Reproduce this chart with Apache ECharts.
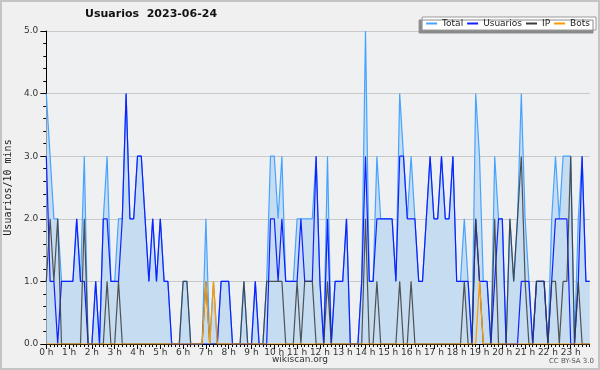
<!DOCTYPE html>
<html>
<head>
<meta charset="utf-8">
<script src="https://cdn.jsdelivr.net/npm/echarts@6/dist/echarts.min.js"></script>
<style>
html,body{margin:0;padding:0;background:#f0f0f0;}
#chart{position:absolute;left:0;top:0;width:600px;height:370px;}
#frame{position:absolute;left:0;top:0;width:596px;height:366px;border:2px solid #c4c4c4;pointer-events:none;}
</style>
</head>
<body>
<div id="chart"></div>
<div id="frame"></div>
<script>
// 10-minute slots, 0:00 .. 23:50
const hourLabels = ["0 h","1 h","2 h","3 h","4 h","5 h","6 h","7 h","8 h","9 h","10 h","11 h","12 h","13 h","14 h","15 h","16 h","17 h","18 h","19 h","20 h","21 h","22 h","23 h"];
const minuteSteps = ["00","10","20","30","40","50"];

const total = [
4,3,2,2,1,1,1,1,2,1,3,0,0,1,0,2,3,1,1,2,2,4,2,2,
3,3,2,1,2,1,2,1,1,0,0,0,1,1,0,0,0,0,2,0,1,0,1,1,
1,0,0,0,1,0,0,1,0,0,1,3,3,2,3,1,1,1,2,2,2,2,2,3,
1,0,3,0,1,1,1,2,0,0,0,1,5,1,1,3,2,2,2,2,1,4,3,2,
3,2,1,1,2,3,2,2,3,2,2,3,1,1,2,1,0,4,3,1,1,0,3,2,
2,0,2,1,2,4,2,1,0,1,1,1,0,2,3,2,3,3,3,0,2,3,1,1
];
const usuarios = [
3,1,1,0,1,1,1,1,2,1,1,0,0,1,0,2,2,1,1,1,2,4,2,2,
3,3,2,1,2,1,2,1,1,0,0,0,0,0,0,0,0,0,0,0,0,0,1,1,
1,0,0,0,0,0,0,1,0,0,0,2,2,1,2,1,1,1,1,2,1,1,1,3,
1,0,2,0,1,1,1,2,0,0,0,1,3,1,1,2,2,2,2,2,1,3,3,2,
2,2,1,1,2,3,2,2,3,2,2,3,1,1,1,1,0,2,1,1,1,0,1,2,
2,0,0,0,0,1,1,1,0,1,1,1,0,1,2,2,2,2,0,0,1,3,1,1
];
const ip = [
1,2,1,2,0,0,0,0,0,0,2,0,0,0,0,0,1,0,0,1,0,0,0,0,
0,0,0,0,0,0,0,0,0,0,0,0,1,1,0,0,0,0,1,0,0,0,0,0,
0,0,0,0,1,0,0,0,0,0,1,1,1,1,1,0,0,0,1,0,1,1,1,0,
0,0,1,0,0,0,0,0,0,0,0,0,2,0,0,1,0,0,0,0,0,1,0,0,
1,0,0,0,0,0,0,0,0,0,0,0,0,0,1,0,0,2,1,0,0,0,2,0,
0,0,2,1,2,3,1,0,0,1,1,1,0,1,1,0,1,1,3,0,1,0,0,0
];
const bots = [
0,0,0,0,0,0,0,0,0,0,0,0,0,0,0,0,0,0,0,0,0,0,0,0,
0,0,0,0,0,0,0,0,0,0,0,0,0,0,0,0,0,0,1,0,1,0,0,0,
0,0,0,0,0,0,0,0,0,0,0,0,0,0,0,0,0,0,0,0,0,0,0,0,
0,0,0,0,0,0,0,0,0,0,0,0,0,0,0,0,0,0,0,0,0,0,0,0,
0,0,0,0,0,0,0,0,0,0,0,0,0,0,0,0,0,0,1,0,0,0,0,0,
0,0,0,0,0,0,0,0,0,0,0,0,0,0,0,0,0,0,0,0,0,0,0,0
];
const yTicks = [0,1,2,3,4,5];

const categories = [];
for (let h = 0; h < 24; h++) for (const m of minuteSteps) categories.push(h + ':' + m);

const colTotal = '#46a3ff', colUsu = '#1020ff', colIP = '#3a3a3a', colBots = '#ff9900';

const chart = echarts.init(document.getElementById('chart'), null, {renderer:'canvas'});
const axisFont = 'DejaVu Sans';
chart.setOption({
  animation: false,
  backgroundColor: '#f0f0f0',
  title: {
    text: 'Usuarios  2023-06-24',
    left: 80, top: 4,
    textStyle: {fontFamily: 'DejaVu Sans', fontWeight: 'bold', fontSize: 11, color: '#111'}
  },
  legend: {
    data: [
      {name: 'Total', itemStyle: {color: colTotal}},
      {name: 'Usuarios', itemStyle: {color: colUsu}},
      {name: 'IP', itemStyle: {color: colIP}},
      {name: 'Bots', itemStyle: {color: colBots}}
    ],
    right: 4, top: 17,
    orient: 'horizontal',
    backgroundColor: '#ffffff',
    borderColor: '#9a9a9a', borderWidth: 1,
    shadowColor: '#8a8a8a', shadowOffsetX: -3, shadowOffsetY: 3, shadowBlur: 0,
    padding: [2, 6, 2, 4],
    itemGap: 4, itemWidth: 11, itemHeight: 2,
    icon: 'rect',
    textStyle: {fontFamily: 'DejaVu Sans', fontSize: 9, color: '#222'}
  },
  grid: {left: 46.3, right: 10.3, top: 31, bottom: 26, containLabel: false, outerBoundsMode: 'none',
         show: true, backgroundColor: '#eef0f2', borderWidth: 0},
  xAxis: [{
    type: 'category', data: categories, boundaryGap: false,
    axisLine: {show: true, lineStyle: {color: '#000', width: 1}},
    axisTick: {show: true, interval: 0, length: 3, lineStyle: {color: '#000'}},
    axisLabel: {
      interval: function (idx) { return idx % 6 === 0; },
      formatter: function (v, idx) { return hourLabels[idx / 6]; },
      fontFamily: axisFont, fontSize: 9, color: '#333', margin: 4
    },
    splitLine: {show: false}
  }, {
    type: 'category', data: categories, boundaryGap: false, position: 'bottom',
    axisLine: {show: false},
    axisTick: {show: true, interval: function (idx) { return idx % 6 === 0; }, length: 5, lineStyle: {color: '#000'}},
    axisLabel: {show: false},
    splitLine: {show: false}
  }],
  yAxis: {
    type: 'value', min: yTicks[0], max: yTicks[yTicks.length - 1], interval: 1,
    name: 'Usuarios/10 mins', nameLocation: 'middle', nameRotate: 90, nameGap: 32,
    nameTextStyle: {fontFamily: 'DejaVu Sans Mono', fontSize: 10, color: '#222'},
    axisLine: {show: true, lineStyle: {color: '#000', width: 1}},
    axisTick: {show: true, length: 6, lineStyle: {color: '#000'}},
    minorTick: {show: true, splitNumber: 5, length: 3, lineStyle: {color: '#000'}},
    axisLabel: {formatter: function (v) { return v.toFixed(1); }, fontFamily: axisFont, fontSize: 9, color: '#333', margin: 8},
    splitLine: {show: true, lineStyle: {color: '#c8c8c8', width: 1}}
  },
  series: [
    {name: 'Total', type: 'line', data: total, symbol: 'none', z: 2,
     lineStyle: {color: colTotal, width: 1.2}, itemStyle: {color: colTotal},
     areaStyle: {color: '#c6dcf0', opacity: 1}},
    {name: 'Usuarios', type: 'line', data: usuarios, symbol: 'none', z: 3,
     lineStyle: {color: colUsu, width: 1.2}, itemStyle: {color: colUsu}},
    {name: 'IP', type: 'line', data: ip, symbol: 'none', z: 4,
     lineStyle: {color: colIP, width: 1.2, opacity: 0.85}, itemStyle: {color: colIP}},
    {name: 'Bots', type: 'line', data: bots, symbol: 'none', z: 5,
     lineStyle: {color: colBots, width: 1.2}, itemStyle: {color: colBots}}
  ],
  graphic: [
    {type: 'text', left: 'center', top: 355, style: {text: 'wikiscan.org', fontFamily: 'DejaVu Sans', fontSize: 9, fill: '#333'}},
    {type: 'text', right: 6, top: 358, style: {text: 'CC BY-SA 3.0', fontFamily: 'DejaVu Sans', fontSize: 7, fill: '#555'}}
  ]
});
</script>
</body>
</html>
